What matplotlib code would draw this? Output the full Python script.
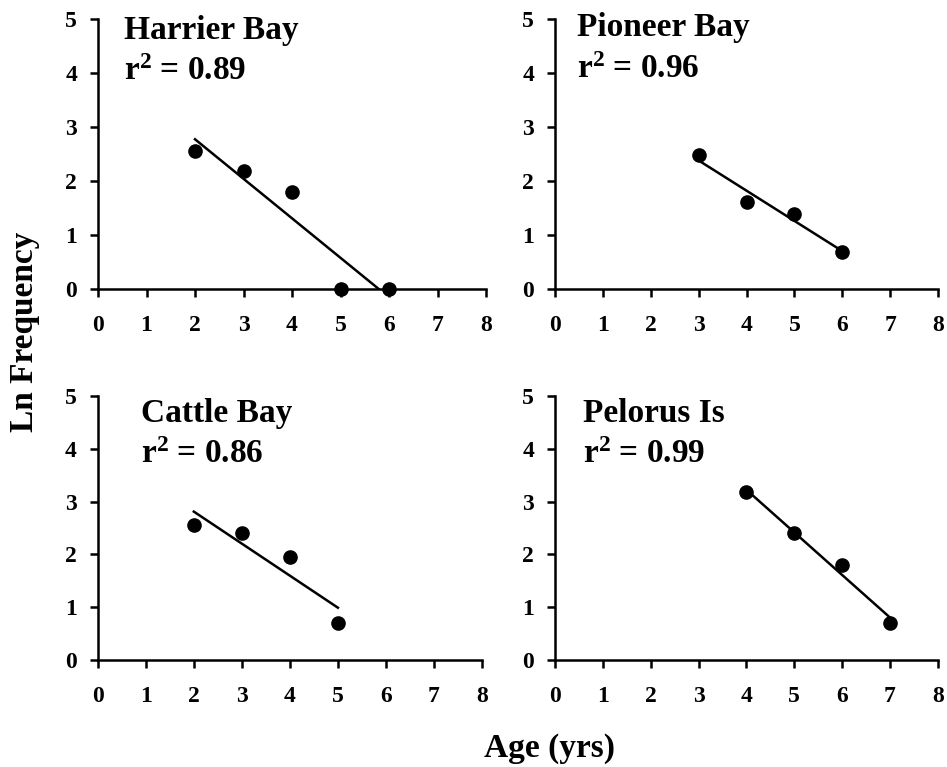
import numpy as np
import matplotlib
matplotlib.use("Agg")
import matplotlib.pyplot as plt

plt.rcParams['font.family'] = ['Liberation Serif', 'DejaVu Serif']
plt.rcParams['font.weight'] = 'bold'
plt.rcParams['mathtext.fontset'] = 'custom'
plt.rcParams['mathtext.rm'] = 'Liberation Serif:bold'
plt.rcParams['mathtext.bf'] = 'Liberation Serif:bold'
plt.rcParams['mathtext.it'] = 'Liberation Serif:bold'

# Data
sites = ["Harrier Bay", "Pioneer Bay", "Cattle Bay", "Pelorus Is"]
r2_values = ["0.89", "0.96", "0.86", "0.99"]
harrier_age = [2, 3, 4, 5, 6]
harrier_ln = [2.565, 2.197, 1.792, 0.0, 0.0]
pioneer_age = [3, 4, 5, 6]
pioneer_ln = [2.485, 1.609, 1.386, 0.693]
cattle_age = [2, 3, 4, 5]
cattle_ln = [2.565, 2.398, 1.946, 0.693]
pelorus_age = [4, 5, 6, 7]
pelorus_ln = [3.178, 2.398, 1.792, 0.693]
x_ticks = [0, 1, 2, 3, 4, 5, 6, 7, 8]
y_ticks = [0, 1, 2, 3, 4, 5]

ages = [harrier_age, pioneer_age, cattle_age, pelorus_age]
lns = [harrier_ln, pioneer_ln, cattle_ln, pelorus_ln]

fig = plt.figure(figsize=(9.47, 7.67), dpi=100)
positions = [
    [0.1035, 0.6232, 0.4097, 0.3516],
    [0.5861, 0.6232, 0.4044, 0.3516],
    [0.1032, 0.1395, 0.4058, 0.3442],
    [0.5861, 0.1395, 0.4041, 0.3442],
]
label_pos = [(0.54, 4.63, 3.87), (0.45, 4.69, 3.92), (0.90, 4.51, 3.74), (0.59, 4.51, 3.74)]

for i in range(4):
    ax = fig.add_axes(positions[i])
    x = np.array(ages[i], dtype=float)
    y = np.array(lns[i], dtype=float)
    ax.plot(x, y, 'o', color='black', ms=9.5, zorder=3, clip_on=False)
    slope, intercept = np.polyfit(x, y, 1)
    xl = np.array([x.min(), x.max()])
    ax.plot(xl, slope * xl + intercept, color='black', lw=1.8, zorder=2)
    ax.set_xlim(0, 8)
    ax.set_ylim(0, 5)
    ax.set_xticks(x_ticks)
    ax.set_yticks(y_ticks)
    for s in ['top', 'right']:
        ax.spines[s].set_visible(False)
    for s in ['left', 'bottom']:
        ax.spines[s].set_linewidth(1.8)
    ax.tick_params(axis='both', direction='out', length=6, width=1.8, labelsize=17)
    ax.tick_params(axis='x', pad=13)
    ax.tick_params(axis='y', pad=9)
    for lab in ax.get_xticklabels() + ax.get_yticklabels():
        lab.set_fontweight('bold')
    lx, ly1, ly2 = label_pos[i]
    ax.text(lx, ly1, sites[i], fontsize=24, fontweight='bold', ha='left', va='baseline')
    ax.text(lx, ly2, r'$\mathbf{r^2}$ = ' + r2_values[i], fontsize=24, fontweight='bold',
            ha='left', va='baseline')

fig.text(0.026, 0.568, "Ln Frequency", rotation=90, fontsize=24, fontweight='bold',
         ha='center', va='center')
fig.text(0.58, 0.013, "Age (yrs)", fontsize=24, fontweight='bold', ha='center', va='baseline')

fig.savefig("out.png", dpi=100)
